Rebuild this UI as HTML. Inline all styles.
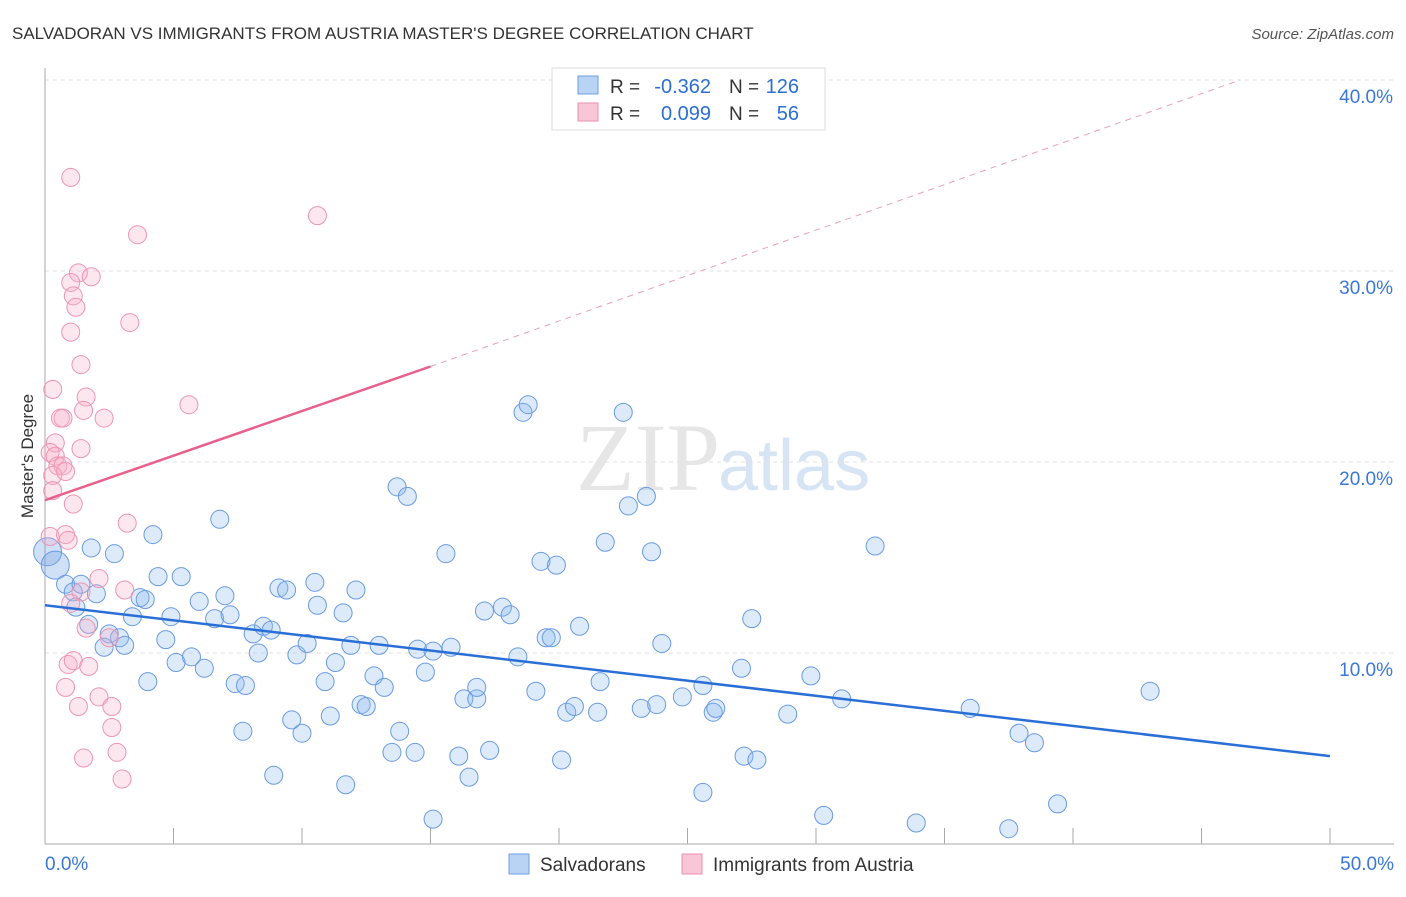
<!DOCTYPE html>
<html><head><meta charset="utf-8"><style>
body{margin:0;background:#fff;font-family:"Liberation Sans",sans-serif}
</style></head><body>
<svg id="c" width="1406" height="892" xmlns="http://www.w3.org/2000/svg" font-family="Liberation Sans, sans-serif">
<text x="12" y="39" font-size="17" fill="#333">SALVADORAN VS IMMIGRANTS FROM AUSTRIA MASTER'S DEGREE CORRELATION CHART</text>
<text x="1394" y="39" font-size="15" fill="#555" font-style="italic" text-anchor="end">Source: ZipAtlas.com</text>
<text x="720" y="490" font-size="96" fill="#e6e6e6" text-anchor="end" font-family="Liberation Serif, serif">ZIP</text>
<text x="718" y="490" font-size="72" fill="#d6e4f4">atlas</text>
<g id="grid"></g><g id="marks"></g>
<text transform="translate(33,456) rotate(-90)" font-size="17" fill="#333" text-anchor="middle">Master's Degree</text>
<g>
<rect x="552" y="68" width="273" height="62" fill="#fff" stroke="#ddd"/>
<rect x="578" y="76" width="20" height="18" fill="#b9d3f5" stroke="#6e9fe0"/>
<rect x="578" y="103" width="20" height="18" fill="#f8c6d6" stroke="#ec8fb0"/>
<text x="610" y="93" font-size="19" fill="#333">R =</text>
<text x="711" y="93" font-size="20" fill="#2a6fd6" text-anchor="end">-0.362</text>
<text x="729" y="93" font-size="19" fill="#333">N =</text>
<text x="799" y="93" font-size="20" fill="#2a6fd6" text-anchor="end">126</text>
<text x="610" y="120" font-size="19" fill="#333">R =</text>
<text x="711" y="120" font-size="20" fill="#2a6fd6" text-anchor="end">0.099</text>
<text x="729" y="120" font-size="19" fill="#333">N =</text>
<text x="799" y="120" font-size="20" fill="#2a6fd6" text-anchor="end">56</text>
</g>
<g>
<rect x="509" y="854" width="20" height="20" fill="#b9d3f5" stroke="#6e9fe0"/>
<text x="540" y="871" font-size="19" fill="#333">Salvadorans</text>
<rect x="682" y="854" width="20" height="20" fill="#f8c6d6" stroke="#ec8fb0"/>
<text x="713" y="871" font-size="19" fill="#333">Immigrants from Austria</text>
</g>
</svg>
<script>
const xTicks=[0,5,10,15,20,25,30,35,40,45,50];
const yTicks=[10,20,30,40];
const blueX=[0.1,0.4,0.8,1.1,1.4,2.0,1.2,1.8,2.7,2.5,2.9,3.1,2.3,1.7,3.7,3.9,3.4,4.2,4.4,5.3,4.7,4.9,4.0,5.1,5.7,6.2,6.0,6.6,6.8,7.0,7.2,7.4,7.8,7.7,8.1,8.3,8.5,8.8,9.1,9.4,8.9,9.6,9.8,10.0,10.2,10.5,10.6,10.9,11.1,11.3,11.6,11.7,11.9,12.1,12.3,12.5,12.8,13.0,13.2,13.7,14.1,13.5,13.8,14.4,14.5,14.8,15.1,15.1,15.6,15.8,16.1,16.3,16.5,16.8,16.8,17.1,17.3,17.8,18.1,18.4,18.6,18.8,19.1,19.3,19.5,19.7,19.9,20.1,20.3,20.6,20.8,21.5,21.6,21.8,22.7,22.5,23.4,23.6,23.2,23.8,24.0,24.8,25.6,25.6,26.0,26.1,27.1,27.2,27.5,27.7,28.9,29.8,30.3,31.0,32.3,33.9,36.0,37.5,37.9,38.5,39.4,43.0];
const blueY=[15.3,14.6,13.6,13.2,13.6,13.1,12.4,15.5,15.2,11.0,10.8,10.4,10.3,11.5,12.9,12.8,11.9,16.2,14.0,14.0,10.7,11.9,8.5,9.5,9.8,9.2,12.7,11.8,17.0,13.0,12.0,8.4,8.3,5.9,11.0,10.0,11.4,11.2,13.4,13.3,3.6,6.5,9.9,5.8,10.5,13.7,12.5,8.5,6.7,9.5,12.1,3.1,10.4,13.3,7.3,7.2,8.8,10.4,8.2,18.7,18.2,4.8,5.9,4.8,10.2,9.0,10.1,1.3,15.2,10.3,4.6,7.6,3.5,7.6,8.2,12.2,4.9,12.4,12.0,9.8,22.6,23.0,8.0,14.8,10.8,10.8,14.6,4.4,6.9,7.2,11.4,6.9,8.5,15.8,17.7,22.6,18.2,15.3,7.1,7.3,10.5,7.7,2.7,8.3,6.9,7.1,9.2,4.6,11.8,4.4,6.8,8.8,1.5,7.6,15.6,1.1,7.1,0.8,5.8,5.3,2.1,8.0];
const pinkX=[1.0,10.6,3.6,1.3,1.8,1.0,1.1,1.2,1.0,3.3,1.4,0.3,1.6,1.5,0.6,0.7,2.3,5.6,0.4,1.4,0.2,0.4,0.5,0.7,0.3,0.8,0.3,1.1,3.2,0.2,0.8,0.9,2.1,3.1,1.4,1.0,1.6,2.5,0.9,1.1,1.7,0.8,1.3,2.1,2.6,2.6,1.5,2.8,3.0];
const pinkY=[34.9,32.9,31.9,29.9,29.7,29.4,28.7,28.1,26.8,27.3,25.1,23.8,23.4,22.7,22.3,22.3,22.3,23.0,21.0,20.7,20.5,20.3,19.8,19.8,19.3,19.5,18.5,17.8,16.8,16.1,16.2,15.9,13.9,13.3,13.2,12.6,11.3,10.8,9.4,9.6,9.3,8.2,7.2,7.7,7.2,6.1,4.5,4.8,3.4];
const blueTrend=[12.5,4.6];
const pinkTrend=[18.0,25.0,40.0];
const X0=45,X1=1330,Y0=844,PY=19.1;
const sx=v=>X0+(X1-X0)*v/50, sy=v=>Y0-v*PY;
const NS="http://www.w3.org/2000/svg";
function mk(t,a,p){const e=document.createElementNS(NS,t);for(const k in a)e.setAttribute(k,a[k]);p.appendChild(e);return e;}
const g=document.getElementById('grid'), m=document.getElementById('marks');
yTicks.forEach(t=>{
 const l=mk('line',{x1:X0,x2:1394,y1:sy(t),y2:sy(t),stroke:'#e2e2e2','stroke-dasharray':'4,4'},g);
 
 
 const tx=mk('text',{x:1393,y:sy(t)+23,'font-size':19,fill:'#3a78d8','text-anchor':'end'},g);
 tx.textContent=t.toFixed(1)+'%';
 
 
});
mk('line',{x1:X0,x2:X0,y1:68,y2:Y0,stroke:'#aaa'},g);
mk('line',{x1:X0,x2:1394,y1:Y0,y2:Y0,stroke:'#aaa'},g);
xTicks.forEach(t=>{
 const l=mk('line',{x1:sx(t),x2:sx(t),y1:828,y2:Y0,stroke:'#aaa'},g);
 
 
});
[[0,'0.0%','start',45],[50,'50.0%','end',1394]].forEach(([v,s,a,x])=>{
 const tx=mk('text',{x:x,y:870,'font-size':19,fill:'#3a78d8','text-anchor':a},g);
 tx.textContent=s;
 
 
});
blueX.forEach((x,i)=>{
 const big=i<2;
 const c=mk('circle',{cx:sx(x),cy:sy(blueY[i]),r:big?14:9,fill:big?'rgba(120,165,230,0.35)':'rgba(140,185,240,0.3)',stroke:'#6a9be0','stroke-width':1},m);
 
 
});
pinkX.forEach((x,i)=>{
 const c=mk('circle',{cx:sx(x),cy:sy(pinkY[i]),r:9,fill:'rgba(248,175,200,0.3)',stroke:'#ec95b2','stroke-width':1},m);
 
 
});
const bl=mk('line',{x1:sx(0),y1:sy(blueTrend[0]),x2:sx(50),y2:sy(blueTrend[1]),stroke:'#2a6fd6','stroke-width':2.5},m);


const pl=mk('line',{x1:sx(0),y1:sy(pinkTrend[0]),x2:sx(15),y2:sy(pinkTrend[1]),stroke:'#e8608c','stroke-width':2.5},m);


const pd=mk('line',{x1:sx(15),y1:sy(pinkTrend[1]),x2:sx(46.5),y2:sy(pinkTrend[2]),stroke:'#eaa0b8','stroke-width':1,'stroke-dasharray':'6,5'},m);


</script>
</body></html>
